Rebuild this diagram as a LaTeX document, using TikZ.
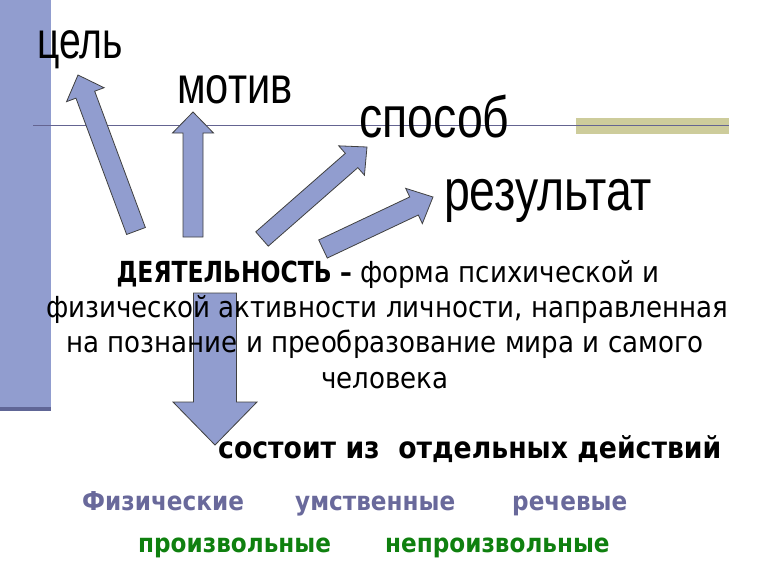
\documentclass[tikz,border=0pt]{standalone}
\usepackage{fontspec}
\setmainfont{DejaVu Sans}
\newfontfamily\headfont{Liberation Sans}
\usetikzlibrary{calc,positioning}

\definecolor{barblue}{RGB}{145,157,207}
\definecolor{barshade}{RGB}{96,102,150}
\definecolor{rulegray}{RGB}{100,100,145}
\definecolor{khaki}{RGB}{205,204,155}
\definecolor{kindblue}{RGB}{105,105,155}
\definecolor{kindgreen}{RGB}{15,128,15}

\tikzset{
  heading/.style={font=\headfont\fontsize{52}{52}\selectfont, inner sep=0pt, anchor=base west, xscale=0.8},
  bigheading/.style={heading, font=\headfont\fontsize{58}{58}\selectfont},
  descline/.style={font=\fontsize{29}{35}\selectfont, inner sep=0pt, anchor=base, xscale=0.9},
  kinds/.style={font=\bfseries\fontsize{26}{26}\selectfont, inner sep=0pt, anchor=base west, xscale=0.89},
  barrow/.style={fill=barblue, draw=black!75, line width=0.8pt, line join=miter},
}

% tail, tip, shaft half width, head half width, head length
\newcommand{\blockarrow}[5]{%
  \coordinate (hb) at ($(#2)!#5!(#1)$);
  \draw[barrow] ($(#1)!#3!90:(#2)$) -- ($(hb)!#3!90:(#2)$) -- ($(hb)!#4!90:(#2)$)
    -- (#2) -- ($(hb)!#4!-90:(#2)$) -- ($(hb)!#3!-90:(#2)$) -- ($(#1)!#3!-90:(#2)$) -- cycle;
}

\begin{document}
\begin{tikzpicture}[x=1pt,y=-1pt]
  \useasboundingbox (0,0) rectangle (768,576);
  % slide decoration
  \fill[barblue] (0,0) rectangle (51,411);
  \fill[barshade] (0,407) rectangle (51,411);
  \fill[khaki] (576,118) rectangle (729,134);
  \draw[rulegray, line width=0.8pt] (33,125) -- (729,125);

  % headings
  \node[heading, xscale=0.94] (goal) at (37,58) {цель};
  \node[heading] (motive) at (177,103) {мотив};
  \node[bigheading] (way) at (359,137) {способ};
  \node[bigheading] (result) at (444,210) {результат};

  % arrows
  \coordinate (goaltail) at (136,231);   \coordinate (goaltip) at (78,75);
  \coordinate (motivetail) at (193,237); \coordinate (motivetip) at (193,112);
  \coordinate (waytail) at (262,239);    \coordinate (waytip) at (367,147);
  \coordinate (resulttail) at (323,249); \coordinate (resulttip) at (433,197);
  \coordinate (downtail) at (215,293);   \coordinate (downtip) at (215,445);
  \blockarrow{goaltail}{goaltip}{10pt}{20pt}{21pt}
  \blockarrow{motivetail}{motivetip}{10pt}{20.5pt}{21pt}
  \blockarrow{waytail}{waytip}{9.5pt}{19.5pt}{20.5pt}
  \blockarrow{resulttail}{resulttip}{10pt}{19.5pt}{21pt}
  \blockarrow{downtail}{downtip}{21.5pt}{42pt}{43pt}

  % definition
  \node[descline] (desc1) at (388,282) {\scalebox{0.9}[1]{\textbf{ДЕЯТЕЛЬНОСТЬ –}} форма психической и};
  \node[descline] (desc2) at (387,317) {физической активности личности, направленная};
  \node[descline] (desc3) at (385,352) {на познание и преобразование мира и самого};
  \node[descline] (desc4) at (385,388) {человека};

  \node[kinds, font=\bfseries\fontsize{30}{30}\selectfont] (parts) at (218,458) {состоит из\ \ отдельных действий};

  % kinds of actions
  \node[kinds, text=kindblue] (phys) at (82,510) {Физические};
  \node[kinds, text=kindblue] (mental) at (295,510) {умственные};
  \node[kinds, text=kindblue] (speech) at (512,510) {речевые};
  \node[kinds, text=kindgreen] (volunt) at (138,552) {произвольные};
  \node[kinds, text=kindgreen] (involunt) at (385,552) {непроизвольные};
\end{tikzpicture}
\end{document}
